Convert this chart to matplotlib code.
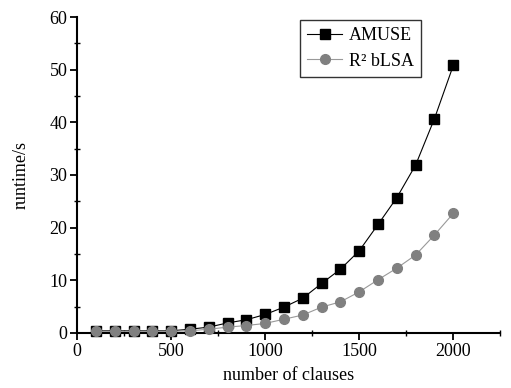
import numpy as np
import matplotlib.pyplot as plt
from matplotlib.ticker import MultipleLocator

clauses = [100, 200, 300, 400, 500, 600, 700, 800, 900, 1000,
           1100, 1200, 1300, 1400, 1500, 1600, 1700, 1800, 1900, 2000]
amuse = [0.4, 0.4, 0.4, 0.4, 0.4, 0.7, 1.1, 1.9, 2.5, 3.5,
         4.9, 6.6, 9.4, 12.1, 15.6, 20.6, 25.7, 31.9, 40.7, 50.8]
blsa = [0.3, 0.3, 0.3, 0.3, 0.3, 0.4, 0.7, 1.1, 1.4, 1.8,
        2.6, 3.4, 4.9, 5.9, 7.8, 10.1, 12.3, 14.8, 18.6, 22.7]

plt.rcParams['font.family'] = ['Liberation Serif', 'DejaVu Serif']

fig = plt.figure(figsize=(5.11, 3.88), dpi=100)
ax = fig.add_axes([0.151, 0.142, 0.828, 0.814])

ax.plot(clauses, amuse, color='black', lw=0.8, marker='s', ms=6.5,
        mfc='black', mec='black', label='AMUSE', clip_on=False, zorder=3)
ax.plot(clauses, blsa, color='#999999', lw=0.8, marker='o', ms=7,
        mfc='#808080', mec='#808080', label='R\u00b2 bLSA', clip_on=False, zorder=4)

ax.set_xlim(0, 2250)
ax.set_ylim(0, 60)
ax.xaxis.set_major_locator(MultipleLocator(500))
ax.xaxis.set_minor_locator(MultipleLocator(250))
ax.yaxis.set_major_locator(MultipleLocator(10))
ax.yaxis.set_minor_locator(MultipleLocator(5))

for s in ['top', 'right']:
    ax.spines[s].set_visible(False)
for s in ['left', 'bottom']:
    ax.spines[s].set_linewidth(1.5)

ax.tick_params(which='major', direction='out', length=5, width=1.3, labelsize=13, pad=2)
ax.tick_params(which='minor', direction='inout', length=4, width=1.0)

ax.set_xlabel('number of clauses', fontsize=13, labelpad=5)
ax.set_ylabel('runtime/s', fontsize=13, labelpad=14)

leg = ax.legend(loc='upper left', bbox_to_anchor=(0.527, 0.99), fontsize=13,
                frameon=True, fancybox=False, edgecolor='black', handlelength=1.9,
                borderpad=0.4, labelspacing=0.45, handletextpad=0.4,
                borderaxespad=0)
leg.get_frame().set_linewidth(1.0)

fig.savefig('out.png', dpi=100)
